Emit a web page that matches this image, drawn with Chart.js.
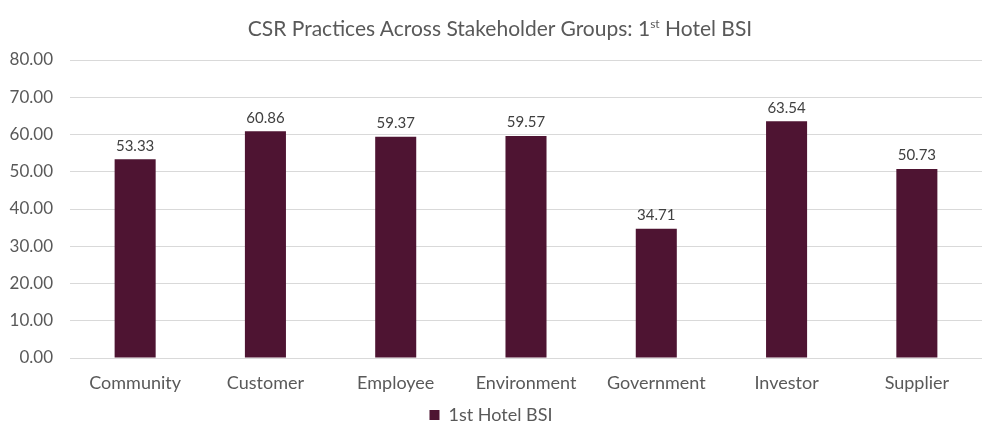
<!DOCTYPE html>
<html><head><meta charset="utf-8">
<script src="https://cdn.jsdelivr.net/npm/chart.js@4"></script>
<style>
html,body{margin:0;padding:0;background:#fff;}
#wrap{position:relative;width:1000px;height:442px;}
#title{position:absolute;left:0;top:15px;width:1000px;text-align:center;font-family:Lato,"Open Sans",sans-serif;font-size:21px;color:#595959;}
#title sup{font-size:12px;vertical-align:8px;line-height:0;}
canvas{position:absolute;left:0;top:0;}
</style></head>
<body><div id="wrap"><canvas id="c" width="1000" height="442"></canvas>
<div id="title">CSR Practices Across Stakeholder Groups: 1<sup>st</sup> Hotel BSI</div></div>
<script>
const categories = ["Community","Customer","Employee","Environment","Government","Investor","Supplier"];
const seriesName = "1st Hotel BSI";
const values = [53.33,60.86,59.37,59.57,34.71,63.54,50.73];
const yTicks = [0,10,20,30,40,50,60,70,80];

const labelPlugin = {
  id:'vals',
  afterDatasetsDraw(chart){
    const ctx = chart.ctx;
    const meta = chart.getDatasetMeta(0);
    ctx.save();
    ctx.font = '15px Lato, "Open Sans", sans-serif';
    ctx.fillStyle = '#404040';
    ctx.textAlign = 'center';
    ctx.textBaseline = 'bottom';
    meta.data.forEach((bar,i)=>{
      ctx.fillText(values[i].toFixed(2), bar.x, bar.y - 6);
    });
    ctx.restore();
  }
};

new Chart(document.getElementById('c'),{
  type:'bar',
  data:{labels:categories,datasets:[{label:seriesName,data:values,backgroundColor:'#4E1432',categoryPercentage:1,barPercentage:0.315}]},
  options:{
    responsive:false,animation:false,
    layout:{padding:{top:60,right:18,left:0,bottom:8}},
    plugins:{
      title:{display:false},
      tooltip:{enabled:false},
      legend:{position:'bottom',labels:{boxWidth:10,boxHeight:10,color:'#595959',font:{family:'Lato, "Open Sans", sans-serif',size:18},padding:8}}
    },
    scales:{
      x:{afterFit(s){s.height=40;},grid:{display:false},border:{display:false},ticks:{color:'#595959',font:{family:'Lato, "Open Sans", sans-serif',size:18},padding:6}},
      y:{min:0,max:80,afterBuildTicks(s){s.ticks=yTicks.map(v=>({value:v}));},
         afterFit(s){s.width=70;},
         grid:{color:'#d9d9d9',drawTicks:false},border:{display:false},
         ticks:{color:'#595959',font:{family:'Lato, "Open Sans", sans-serif',size:17},padding:17,callback:v=>Number(v).toFixed(2)}}
    }
  },
  plugins:[labelPlugin]
});
</script></body></html>
